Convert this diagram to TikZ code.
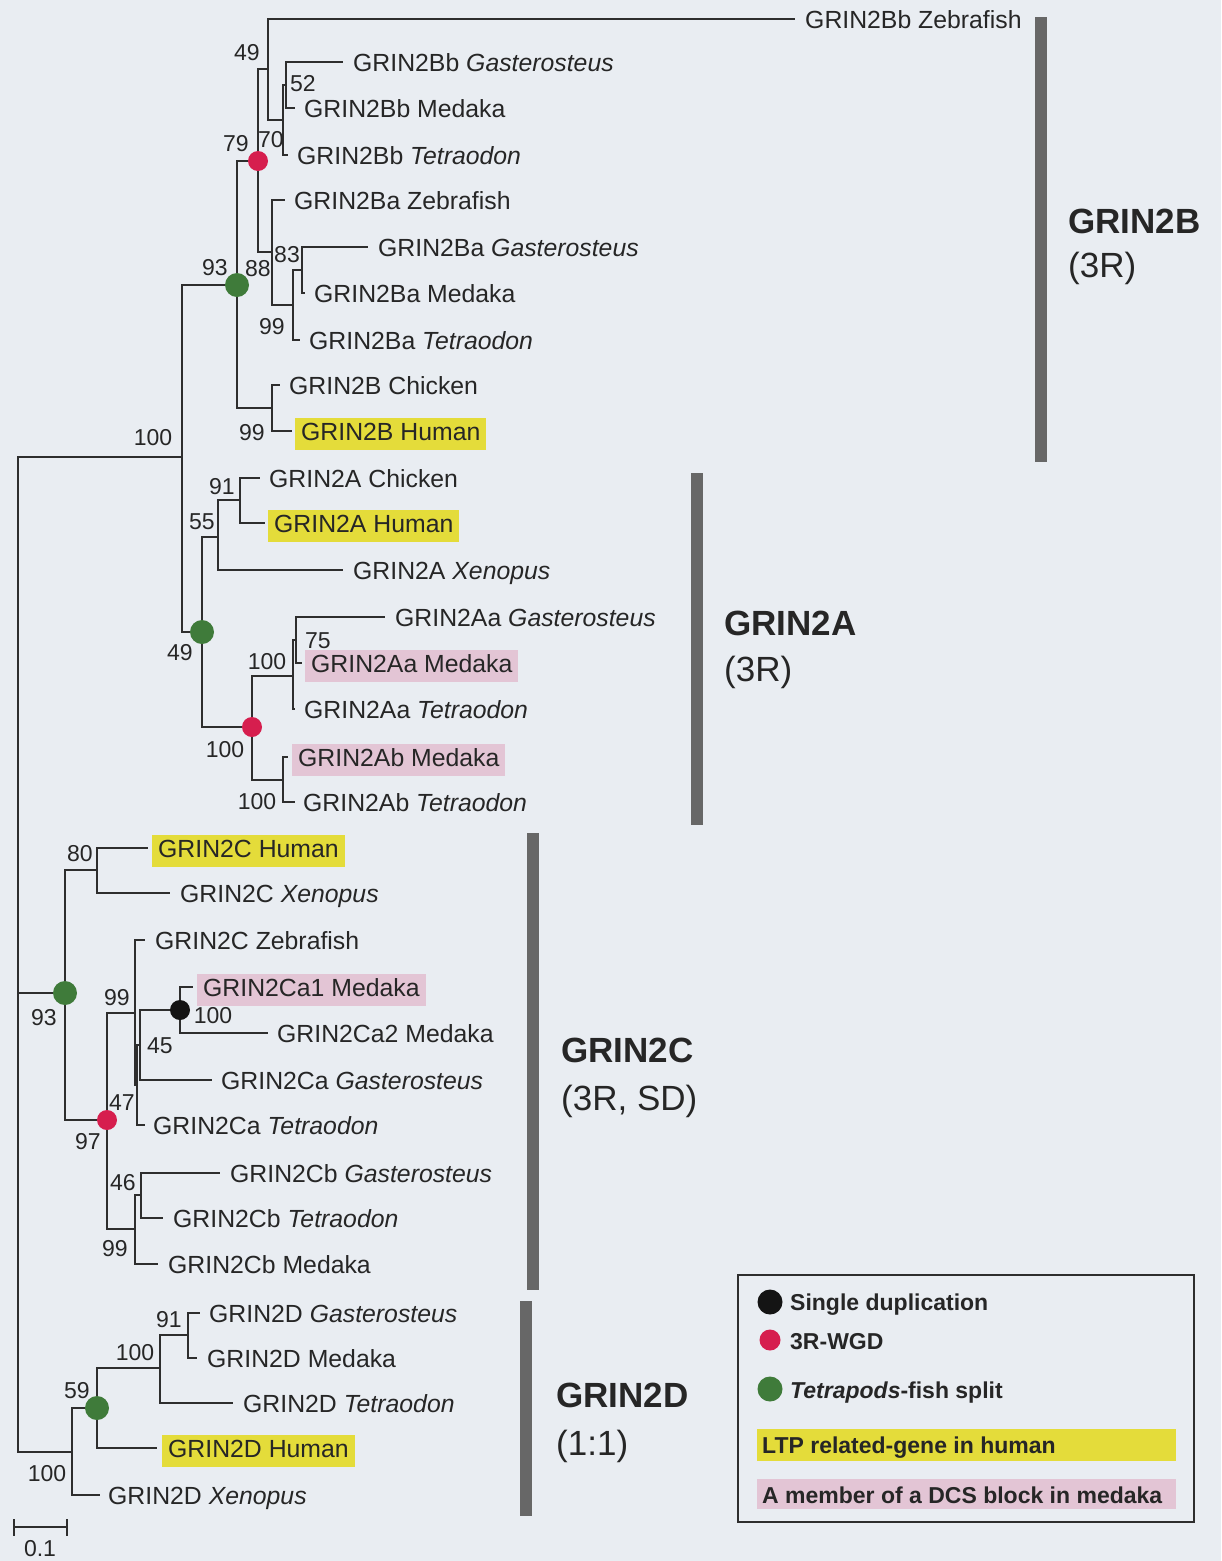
\documentclass[tikz,border=0pt]{standalone}
\usepackage{fontspec}
\setmainfont{Liberation Sans}
\definecolor{bgc}{HTML}{E9EDF2}
\definecolor{linec}{HTML}{2E2E2E}
\definecolor{txt}{HTML}{262626}
\definecolor{hly}{HTML}{E4DC3A}
\definecolor{hlp}{HTML}{E3C5D5}
\definecolor{dotr}{HTML}{D61E4E}
\definecolor{dotg}{HTML}{3F7B3A}
\definecolor{dotk}{HTML}{141414}
\definecolor{barc}{HTML}{676767}
\newcommand\leaffont{\fontsize{24.8}{28}\selectfont}
\newcommand\bsfont{\fontsize{23}{27}\selectfont}
\newcommand\headfont{\fontsize{35}{40}\selectfont}
\newcommand\legfont{\fontsize{23}{27}\selectfont\bfseries}
\begin{document}
\begin{tikzpicture}[x=1pt,y=-1pt,
  br/.style={line width=2pt, draw=linec},
  leaf/.style={anchor=base west, inner sep=0pt, font=\leaffont, text=txt},
  hl/.style={leaf, inner xsep=6pt, inner ysep=4pt, text height=18pt, text depth=6pt},
  hly/.style={hl, fill=hly},
  hlp/.style={hl, fill=hlp},
  bs/.style={anchor=base, inner sep=0pt, font=\bsfont, text=txt},
  head/.style={anchor=base west, inner sep=0pt, font=\headfont\bfseries, text=txt},
  sub/.style={anchor=base west, inner sep=0pt, font=\headfont, text=txt},
  gbar/.style={line width=12pt, draw=barc},
  gdot/.style={circle, fill=dotg, inner sep=0pt, minimum size=24pt},
  rdot/.style={circle, fill=dotr, inner sep=0pt, minimum size=20pt},
  kdot/.style={circle, fill=dotk, inner sep=0pt, minimum size=20pt},
  legtxt/.style={anchor=base west, inner sep=0pt, font=\legfont, text=txt}
]
\fill[bgc] (0,0) rectangle (1221,1561);
\useasboundingbox (0,0) rectangle (1221,1561);

% ---------- internal nodes ----------
\coordinate (root) at (18,993);
\coordinate (A) at (182,457);
\coordinate (B) at (237,285);
\coordinate (D) at (258,161);
\coordinate (F) at (268,69);
\coordinate (H) at (283,120);
\coordinate (I) at (286,85);
\coordinate (G) at (272,252);
\coordinate (J) at (293,305);
\coordinate (K) at (302,270);
\coordinate (E) at (272,408);
\coordinate (C) at (202,632);
\coordinate (L) at (218,537);
\coordinate (N) at (240,500);
\coordinate (M) at (252,727);
\coordinate (O) at (293,676);
\coordinate (Q) at (296,640);
\coordinate (P) at (283,780);
\coordinate (R) at (65,993);
\coordinate (S) at (97,870);
\coordinate (T) at (107,1120);
\coordinate (U) at (135,1013);
\coordinate (W) at (137,1085);
\coordinate (X) at (140,1045);
\coordinate (Y) at (180,1010);
\coordinate (V) at (135,1229);
\coordinate (Z) at (141,1195);
\coordinate (AA) at (72,1452);
\coordinate (AB) at (97,1408);
\coordinate (AC) at (160,1368);
\coordinate (AD) at (188,1335);

% ---------- leaf tips ----------
\coordinate (zb) at (795,19);
\coordinate (bbg) at (343,62);
\coordinate (bbm) at (295,108);
\coordinate (bbt) at (288,155);
\coordinate (baz) at (285,200);
\coordinate (bag) at (368,247);
\coordinate (bam) at (305,293);
\coordinate (bat) at (300,340);
\coordinate (bc) at (280,385);
\coordinate (bh) at (292,431);
\coordinate (ac) at (260,478);
\coordinate (ah) at (265,523);
\coordinate (ax) at (343,570);
\coordinate (aag) at (385,617);
\coordinate (aam) at (302,663);
\coordinate (aat) at (295,709);
\coordinate (abm) at (288,757);
\coordinate (abt) at (295,802);
\coordinate (ch) at (148,848);
\coordinate (cx) at (170,893);
\coordinate (cz) at (145,940);
\coordinate (ca1) at (193,987);
\coordinate (ca2) at (268,1033);
\coordinate (cag) at (212,1080);
\coordinate (cat) at (145,1125);
\coordinate (cbg) at (220,1173);
\coordinate (cbt) at (163,1218);
\coordinate (cbm) at (158,1264);
\coordinate (dg) at (200,1313);
\coordinate (dm) at (197,1358);
\coordinate (dt) at (233,1403);
\coordinate (dh) at (157,1448);
\coordinate (dx) at (100,1495);

% ---------- branches ----------
\draw[br] (root) |- (A);  \draw[br] (root) |- (R);  \draw[br] (root) |- (AA);
\draw[br] (A) |- (B);     \draw[br] (A) |- (C);
\draw[br] (B) |- (D);     \draw[br] (B) |- (E);
\draw[br] (D) |- (F);     \draw[br] (D) |- (G);
\draw[br] (F) |- (zb);    \draw[br] (F) |- (H);
\draw[br] (H) |- (I);     \draw[br] (H) |- (bbt);
\draw[br] (I) |- (bbg);   \draw[br] (I) |- (bbm);
\draw[br] (G) |- (baz);   \draw[br] (G) |- (J);
\draw[br] (J) |- (K);     \draw[br] (J) |- (bat);
\draw[br] (K) |- (bag);   \draw[br] (K) |- (bam);
\draw[br] (E) |- (bc);    \draw[br] (E) |- (bh);
\draw[br] (C) |- (L);     \draw[br] (C) |- (M);
\draw[br] (L) |- (N);     \draw[br] (L) |- (ax);
\draw[br] (N) |- (ac);    \draw[br] (N) |- (ah);
\draw[br] (M) |- (O);     \draw[br] (M) |- (P);
\draw[br] (O) |- (Q);     \draw[br] (O) |- (aat);
\draw[br] (Q) |- (aag);   \draw[br] (Q) |- (aam);
\draw[br] (P) |- (abm);   \draw[br] (P) |- (abt);
\draw[br] (R) |- (S);     \draw[br] (R) |- (T);
\draw[br] (S) |- (ch);    \draw[br] (S) |- (cx);
\draw[br] (T) |- (U);     \draw[br] (T) |- (V);
\draw[br] (U) |- (cz);    \draw[br] (U) |- (W);
\draw[br] (W) |- (X);     \draw[br] (W) |- (cat);
\draw[br] (X) |- (Y);     \draw[br] (X) |- (cag);
\draw[br] (Y) |- (ca1);   \draw[br] (Y) |- (ca2);
\draw[br] (V) |- (Z);     \draw[br] (V) |- (cbm);
\draw[br] (Z) |- (cbg);   \draw[br] (Z) |- (cbt);
\draw[br] (AA) |- (AB);   \draw[br] (AA) |- (dx);
\draw[br] (AB) |- (AC);   \draw[br] (AB) |- (dh);
\draw[br] (AC) |- (AD);   \draw[br] (AC) |- (dt);
\draw[br] (AD) |- (dg);   \draw[br] (AD) |- (dm);

% ---------- event dots ----------
\node[gdot] (dB) at (B) {};
\node[gdot] (dC) at (C) {};
\node[gdot] (dR) at (R) {};
\node[gdot] (dAB) at (AB) {};
\node[rdot] (dD) at (D) {};
\node[rdot] (dM) at (M) {};
\node[rdot] (dT) at (T) {};
\node[kdot] (dY) at (Y) {};

% ---------- leaf labels ----------
\node[leaf] (Lzb) at (805,28) {GRIN2Bb Zebrafish};
\node[leaf] (Lbbg) at (353,71) {GRIN2Bb \textit{Gasterosteus}};
\node[leaf] (Lbbm) at (304,117) {GRIN2Bb Medaka};
\node[leaf] (Lbbt) at (297,164) {GRIN2Bb \textit{Tetraodon}};
\node[leaf] (Lbaz) at (294,209) {GRIN2Ba Zebrafish};
\node[leaf] (Lbag) at (378,256) {GRIN2Ba \textit{Gasterosteus}};
\node[leaf] (Lbam) at (314,302) {GRIN2Ba Medaka};
\node[leaf] (Lbat) at (309,349) {GRIN2Ba \textit{Tetraodon}};
\node[leaf] (Lbc) at (289,394) {GRIN2B Chicken};
\node[hly] (Lbh) at (295,440) {GRIN2B Human};
\node[leaf] (Lac) at (269,487) {GRIN2A Chicken};
\node[hly] (Lah) at (268,532) {GRIN2A Human};
\node[leaf] (Lax) at (353,579) {GRIN2A \textit{Xenopus}};
\node[leaf] (Laag) at (395,626) {GRIN2Aa \textit{Gasterosteus}};
\node[hlp] (Laam) at (305,672) {GRIN2Aa Medaka};
\node[leaf] (Laat) at (304,718) {GRIN2Aa \textit{Tetraodon}};
\node[hlp] (Labm) at (292,766) {GRIN2Ab Medaka};
\node[leaf] (Labt) at (303,811) {GRIN2Ab \textit{Tetraodon}};
\node[hly] (Lch) at (152,857) {GRIN2C Human};
\node[leaf] (Lcx) at (180,902) {GRIN2C \textit{Xenopus}};
\node[leaf] (Lcz) at (155,949) {GRIN2C Zebrafish};
\node[hlp] (Lca1) at (197,996) {GRIN2Ca1 Medaka};
\node[leaf] (Lca2) at (277,1042) {GRIN2Ca2 Medaka};
\node[leaf] (Lcag) at (221,1089) {GRIN2Ca \textit{Gasterosteus}};
\node[leaf] (Lcat) at (153,1134) {GRIN2Ca \textit{Tetraodon}};
\node[leaf] (Lcbg) at (230,1182) {GRIN2Cb \textit{Gasterosteus}};
\node[leaf] (Lcbt) at (173,1227) {GRIN2Cb \textit{Tetraodon}};
\node[leaf] (Lcbm) at (168,1273) {GRIN2Cb Medaka};
\node[leaf] (Ldg) at (209,1322) {GRIN2D \textit{Gasterosteus}};
\node[leaf] (Ldm) at (207,1367) {GRIN2D Medaka};
\node[leaf] (Ldt) at (243,1412) {GRIN2D \textit{Tetraodon}};
\node[hly] (Ldh) at (162,1457) {GRIN2D Human};
\node[leaf] (Ldx) at (108,1504) {GRIN2D \textit{Xenopus}};

% ---------- bootstrap values ----------
\node[bs] (b1) at (247,60) {49};
\node[bs] (b2) at (303,91) {52};
\node[bs] (b3) at (271,147) {70};
\node[bs] (b4) at (236,151) {79};
\node[bs] (b5) at (287,262) {83};
\node[bs] (b6) at (258,276) {88};
\node[bs] (b7) at (215,275) {93};
\node[bs] (b8) at (272,334) {99};
\node[bs] (b9) at (252,440) {99};
\node[bs] (b10) at (153,445) {100};
\node[bs] (b11) at (222,494) {91};
\node[bs] (b12) at (202,529) {55};
\node[bs] (b13) at (180,660) {49};
\node[bs] (b14) at (318,648) {75};
\node[bs] (b15) at (267,669) {100};
\node[bs] (b16) at (225,757) {100};
\node[bs] (b17) at (257,809) {100};
\node[bs] (b18) at (80,861) {80};
\node[bs] (b19) at (44,1025) {93};
\node[bs] (b20) at (117,1005) {99};
\node[bs] (b21) at (213,1023) {100};
\node[bs] (b22) at (160,1053) {45};
\node[bs] (b23) at (122,1110) {47};
\node[bs] (b24) at (88,1149) {97};
\node[bs] (b25) at (123,1190) {46};
\node[bs] (b26) at (115,1256) {99};
\node[bs] (b27) at (169,1327) {91};
\node[bs] (b28) at (135,1360) {100};
\node[bs] (b29) at (77,1398) {59};
\node[bs] (b30) at (47,1481) {100};

% ---------- clade bars and headings ----------
\draw[gbar] (1041,17) -- (1041,462);
\draw[gbar] (697,473) -- (697,825);
\draw[gbar] (533,833) -- (533,1290);
\draw[gbar] (526,1301) -- (526,1516);
\node[head] (h2b) at (1068,233) {GRIN2B};
\node[sub] (s2b) at (1068,277) {(3R)};
\node[head] (h2a) at (724,635) {GRIN2A};
\node[sub] (s2a) at (724,681) {(3R)};
\node[head] (h2c) at (561,1062) {GRIN2C};
\node[sub] (s2c) at (561,1110) {(3R, SD)};
\node[head] (h2d) at (556,1407) {GRIN2D};
\node[sub] (s2d) at (556,1455) {(1:1)};

% ---------- scale bar ----------
\coordinate (sb1) at (14,1527);
\coordinate (sb2) at (67,1527);
\draw[br] (sb1) -- (sb2);
\draw[br] ([yshift=8pt]sb1) -- ([yshift=-9pt]sb1);
\draw[br] ([yshift=8pt]sb2) -- ([yshift=-9pt]sb2);
\node[bs] (sbl) at (40,1556) {0.1};

% ---------- legend ----------
\draw[line width=2pt, draw=linec] (738,1275) rectangle (1194,1522);
\node[kdot, minimum size=25pt] (lk) at (770,1302) {};
\node[rdot, minimum size=21pt] (lr) at (770,1340) {};
\node[gdot, minimum size=25pt] (lg) at (770,1389) {};
\node[legtxt] (tk) at (790,1310) {Single duplication};
\node[legtxt] (tr) at (790,1349) {3R-WGD};
\node[legtxt] (tg) at (790,1398) {\textit{Tetrapods}-fish split};
\fill[hly] (757,1429) rectangle (1176,1461);
\fill[hlp] (757,1479) rectangle (1176,1509);
\node[legtxt] (ty) at (762,1453) {LTP related-gene in human};
\node[legtxt] (tp) at (762,1503) {A member of a DCS block in medaka};
\end{tikzpicture}
\end{document}
